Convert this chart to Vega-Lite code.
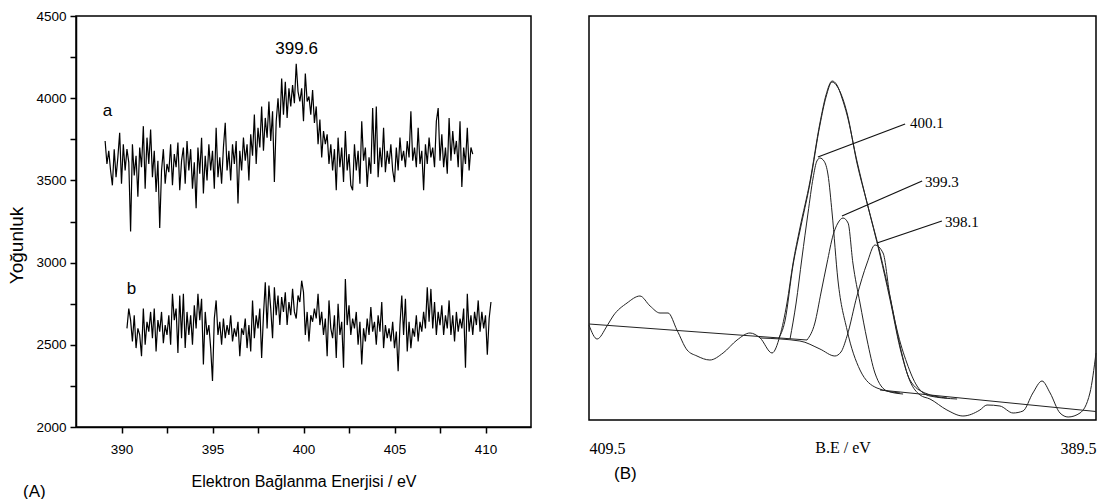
{
"$schema": "https://vega.github.io/schema/vega-lite/v6.json",
"background": "white",
"padding": {"left": 6, "top": 8, "right": 6, "bottom": 0},
"bounds": "flush",
"spacing": 58,
"config": {
  "view": {"stroke": "#000", "strokeWidth": 1.5},
  "font": "Liberation Sans",
  "axis": {"grid": false, "domainColor": "#000", "domainWidth": 1.5, "tickColor": "#000", "tickWidth": 1.5, "labelColor": "#000", "titleColor": "#000", "titleFontWeight": "normal"}
},
"datasets": {
"spectra": [
{"s":"a","x":389.1,"y":3740},{"s":"a","x":389.2,"y":3600},{"s":"a","x":389.3,"y":3680},{"s":"a","x":389.4,"y":3560},{"s":"a","x":389.5,"y":3470},{"s":"a","x":389.6,"y":3690},{"s":"a","x":389.7,"y":3520},{"s":"a","x":389.8,"y":3640},{"s":"a","x":389.9,"y":3790},
{"s":"a","x":390.0,"y":3480},{"s":"a","x":390.1,"y":3720},{"s":"a","x":390.2,"y":3560},{"s":"a","x":390.3,"y":3690},{"s":"a","x":390.4,"y":3610},{"s":"a","x":390.5,"y":3190},{"s":"a","x":390.6,"y":3720},{"s":"a","x":390.7,"y":3530},{"s":"a","x":390.8,"y":3650},{"s":"a","x":390.9,"y":3400},
{"s":"a","x":391.0,"y":3700},{"s":"a","x":391.1,"y":3580},{"s":"a","x":391.2,"y":3830},{"s":"a","x":391.3,"y":3450},{"s":"a","x":391.4,"y":3760},{"s":"a","x":391.5,"y":3600},{"s":"a","x":391.6,"y":3810},{"s":"a","x":391.7,"y":3520},{"s":"a","x":391.8,"y":3680},{"s":"a","x":391.9,"y":3430},
{"s":"a","x":392.0,"y":3620},{"s":"a","x":392.1,"y":3210},{"s":"a","x":392.2,"y":3560},{"s":"a","x":392.3,"y":3690},{"s":"a","x":392.4,"y":3480},{"s":"a","x":392.5,"y":3600},{"s":"a","x":392.6,"y":3550},{"s":"a","x":392.7,"y":3720},{"s":"a","x":392.8,"y":3470},{"s":"a","x":392.9,"y":3660},
{"s":"a","x":393.0,"y":3580},{"s":"a","x":393.1,"y":3730},{"s":"a","x":393.2,"y":3440},{"s":"a","x":393.3,"y":3620},{"s":"a","x":393.4,"y":3700},{"s":"a","x":393.5,"y":3480},{"s":"a","x":393.6,"y":3740},{"s":"a","x":393.7,"y":3560},{"s":"a","x":393.8,"y":3690},{"s":"a","x":393.9,"y":3450},
{"s":"a","x":394.0,"y":3610},{"s":"a","x":394.1,"y":3330},{"s":"a","x":394.2,"y":3700},{"s":"a","x":394.3,"y":3540},{"s":"a","x":394.4,"y":3760},{"s":"a","x":394.5,"y":3420},{"s":"a","x":394.6,"y":3650},{"s":"a","x":394.7,"y":3500},{"s":"a","x":394.8,"y":3720},{"s":"a","x":394.9,"y":3560},
{"s":"a","x":395.0,"y":3680},{"s":"a","x":395.1,"y":3450},{"s":"a","x":395.2,"y":3820},{"s":"a","x":395.3,"y":3520},{"s":"a","x":395.4,"y":3640},{"s":"a","x":395.5,"y":3480},{"s":"a","x":395.6,"y":3700},{"s":"a","x":395.7,"y":3850},{"s":"a","x":395.8,"y":3560},{"s":"a","x":395.9,"y":3680},
{"s":"a","x":396.0,"y":3500},{"s":"a","x":396.1,"y":3720},{"s":"a","x":396.2,"y":3600},{"s":"a","x":396.3,"y":3740},{"s":"a","x":396.4,"y":3360},{"s":"a","x":396.5,"y":3680},{"s":"a","x":396.6,"y":3560},{"s":"a","x":396.7,"y":3760},{"s":"a","x":396.8,"y":3620},{"s":"a","x":396.9,"y":3720},
{"s":"a","x":397.0,"y":3500},{"s":"a","x":397.1,"y":3780},{"s":"a","x":397.2,"y":3650},{"s":"a","x":397.3,"y":3900},{"s":"a","x":397.4,"y":3600},{"s":"a","x":397.5,"y":3820},{"s":"a","x":397.6,"y":3700},{"s":"a","x":397.7,"y":3950},{"s":"a","x":397.8,"y":3680},{"s":"a","x":397.9,"y":3880},
{"s":"a","x":398.0,"y":3760},{"s":"a","x":398.1,"y":3980},{"s":"a","x":398.2,"y":3740},{"s":"a","x":398.3,"y":3920},{"s":"a","x":398.4,"y":3490},{"s":"a","x":398.5,"y":3860},{"s":"a","x":398.6,"y":4000},{"s":"a","x":398.7,"y":3820},{"s":"a","x":398.8,"y":4120},{"s":"a","x":398.9,"y":3900},
{"s":"a","x":399.0,"y":4100},{"s":"a","x":399.1,"y":3880},{"s":"a","x":399.2,"y":4060},{"s":"a","x":399.3,"y":3950},{"s":"a","x":399.4,"y":4080},{"s":"a","x":399.5,"y":3970},{"s":"a","x":399.6,"y":4210},{"s":"a","x":399.7,"y":4040},{"s":"a","x":399.8,"y":3980},{"s":"a","x":399.9,"y":4060},
{"s":"a","x":400.0,"y":3860},{"s":"a","x":400.1,"y":4150},{"s":"a","x":400.2,"y":3980},{"s":"a","x":400.3,"y":4010},{"s":"a","x":400.4,"y":3900},{"s":"a","x":400.5,"y":4050},{"s":"a","x":400.6,"y":3850},{"s":"a","x":400.7,"y":3950},{"s":"a","x":400.8,"y":3720},{"s":"a","x":400.9,"y":3870},
{"s":"a","x":401.0,"y":3640},{"s":"a","x":401.1,"y":3800},{"s":"a","x":401.2,"y":3720},{"s":"a","x":401.3,"y":3780},{"s":"a","x":401.4,"y":3600},{"s":"a","x":401.5,"y":3720},{"s":"a","x":401.6,"y":3560},{"s":"a","x":401.7,"y":3690},{"s":"a","x":401.8,"y":3440},{"s":"a","x":401.9,"y":3760},
{"s":"a","x":402.0,"y":3580},{"s":"a","x":402.1,"y":3700},{"s":"a","x":402.2,"y":3490},{"s":"a","x":402.3,"y":3800},{"s":"a","x":402.4,"y":3560},{"s":"a","x":402.5,"y":3660},{"s":"a","x":402.6,"y":3470},{"s":"a","x":402.7,"y":3440},{"s":"a","x":402.8,"y":3720},{"s":"a","x":402.9,"y":3560},
{"s":"a","x":403.0,"y":3680},{"s":"a","x":403.1,"y":3480},{"s":"a","x":403.2,"y":3860},{"s":"a","x":403.3,"y":3620},{"s":"a","x":403.4,"y":3700},{"s":"a","x":403.5,"y":3460},{"s":"a","x":403.6,"y":3640},{"s":"a","x":403.7,"y":3540},{"s":"a","x":403.8,"y":3940},{"s":"a","x":403.9,"y":3600},
{"s":"a","x":404.0,"y":3950},{"s":"a","x":404.1,"y":3520},{"s":"a","x":404.2,"y":3700},{"s":"a","x":404.3,"y":3580},{"s":"a","x":404.4,"y":3820},{"s":"a","x":404.5,"y":3550},{"s":"a","x":404.6,"y":3680},{"s":"a","x":404.7,"y":3600},{"s":"a","x":404.8,"y":3720},{"s":"a","x":404.9,"y":3560},
{"s":"a","x":405.0,"y":3490},{"s":"a","x":405.1,"y":3700},{"s":"a","x":405.2,"y":3560},{"s":"a","x":405.3,"y":3760},{"s":"a","x":405.4,"y":3620},{"s":"a","x":405.5,"y":3680},{"s":"a","x":405.6,"y":3580},{"s":"a","x":405.7,"y":3740},{"s":"a","x":405.8,"y":3640},{"s":"a","x":405.9,"y":3920},
{"s":"a","x":406.0,"y":3620},{"s":"a","x":406.1,"y":3700},{"s":"a","x":406.2,"y":3580},{"s":"a","x":406.3,"y":3820},{"s":"a","x":406.4,"y":3600},{"s":"a","x":406.5,"y":3680},{"s":"a","x":406.6,"y":3440},{"s":"a","x":406.7,"y":3720},{"s":"a","x":406.8,"y":3600},{"s":"a","x":406.9,"y":3760},
{"s":"a","x":407.0,"y":3640},{"s":"a","x":407.1,"y":3700},{"s":"a","x":407.2,"y":3580},{"s":"a","x":407.3,"y":3860},{"s":"a","x":407.4,"y":3940},{"s":"a","x":407.5,"y":3620},{"s":"a","x":407.6,"y":3780},{"s":"a","x":407.7,"y":3580},{"s":"a","x":407.8,"y":3700},{"s":"a","x":407.9,"y":3540},
{"s":"a","x":408.0,"y":3880},{"s":"a","x":408.1,"y":3620},{"s":"a","x":408.2,"y":3800},{"s":"a","x":408.3,"y":3660},{"s":"a","x":408.4,"y":3740},{"s":"a","x":408.5,"y":3580},{"s":"a","x":408.6,"y":3860},{"s":"a","x":408.7,"y":3460},{"s":"a","x":408.8,"y":3700},{"s":"a","x":408.9,"y":3600},
{"s":"a","x":409.0,"y":3820},{"s":"a","x":409.1,"y":3560},{"s":"a","x":409.2,"y":3700},{"s":"a","x":409.3,"y":3660},
{"s":"b","x":390.3,"y":2600},{"s":"b","x":390.4,"y":2720},{"s":"b","x":390.5,"y":2650},{"s":"b","x":390.6,"y":2520},{"s":"b","x":390.7,"y":2680},{"s":"b","x":390.8,"y":2480},{"s":"b","x":390.9,"y":2600},
{"s":"b","x":391.0,"y":2560},{"s":"b","x":391.1,"y":2430},{"s":"b","x":391.2,"y":2720},{"s":"b","x":391.3,"y":2500},{"s":"b","x":391.4,"y":2640},{"s":"b","x":391.5,"y":2580},{"s":"b","x":391.6,"y":2700},{"s":"b","x":391.7,"y":2540},{"s":"b","x":391.8,"y":2720},{"s":"b","x":391.9,"y":2460},
{"s":"b","x":392.0,"y":2650},{"s":"b","x":392.1,"y":2580},{"s":"b","x":392.2,"y":2700},{"s":"b","x":392.3,"y":2510},{"s":"b","x":392.4,"y":2620},{"s":"b","x":392.5,"y":2560},{"s":"b","x":392.6,"y":2680},{"s":"b","x":392.7,"y":2500},{"s":"b","x":392.8,"y":2810},{"s":"b","x":392.9,"y":2650},
{"s":"b","x":393.0,"y":2720},{"s":"b","x":393.1,"y":2450},{"s":"b","x":393.2,"y":2800},{"s":"b","x":393.3,"y":2540},{"s":"b","x":393.4,"y":2810},{"s":"b","x":393.5,"y":2480},{"s":"b","x":393.6,"y":2700},{"s":"b","x":393.7,"y":2560},{"s":"b","x":393.8,"y":2680},{"s":"b","x":393.9,"y":2500},
{"s":"b","x":394.0,"y":2740},{"s":"b","x":394.1,"y":2600},{"s":"b","x":394.2,"y":2810},{"s":"b","x":394.3,"y":2650},{"s":"b","x":394.4,"y":2780},{"s":"b","x":394.5,"y":2380},{"s":"b","x":394.6,"y":2700},{"s":"b","x":394.7,"y":2560},{"s":"b","x":394.8,"y":2620},{"s":"b","x":394.9,"y":2480},
{"s":"b","x":395.0,"y":2280},{"s":"b","x":395.1,"y":2660},{"s":"b","x":395.2,"y":2770},{"s":"b","x":395.3,"y":2560},{"s":"b","x":395.4,"y":2640},{"s":"b","x":395.5,"y":2500},{"s":"b","x":395.6,"y":2660},{"s":"b","x":395.7,"y":2540},{"s":"b","x":395.8,"y":2620},{"s":"b","x":395.9,"y":2560},
{"s":"b","x":396.0,"y":2680},{"s":"b","x":396.1,"y":2520},{"s":"b","x":396.2,"y":2600},{"s":"b","x":396.3,"y":2550},{"s":"b","x":396.4,"y":2640},{"s":"b","x":396.5,"y":2430},{"s":"b","x":396.6,"y":2600},{"s":"b","x":396.7,"y":2560},{"s":"b","x":396.8,"y":2660},{"s":"b","x":396.9,"y":2480},
{"s":"b","x":397.0,"y":2620},{"s":"b","x":397.1,"y":2460},{"s":"b","x":397.2,"y":2770},{"s":"b","x":397.3,"y":2540},{"s":"b","x":397.4,"y":2680},{"s":"b","x":397.5,"y":2600},{"s":"b","x":397.6,"y":2720},{"s":"b","x":397.7,"y":2420},{"s":"b","x":397.8,"y":2680},{"s":"b","x":397.9,"y":2880},
{"s":"b","x":398.0,"y":2600},{"s":"b","x":398.1,"y":2860},{"s":"b","x":398.2,"y":2720},{"s":"b","x":398.3,"y":2540},{"s":"b","x":398.4,"y":2850},{"s":"b","x":398.5,"y":2680},{"s":"b","x":398.6,"y":2800},{"s":"b","x":398.7,"y":2620},{"s":"b","x":398.8,"y":2790},{"s":"b","x":398.9,"y":2700},
{"s":"b","x":399.0,"y":2820},{"s":"b","x":399.1,"y":2620},{"s":"b","x":399.2,"y":2760},{"s":"b","x":399.3,"y":2680},{"s":"b","x":399.4,"y":2840},{"s":"b","x":399.5,"y":2700},{"s":"b","x":399.6,"y":2660},{"s":"b","x":399.7,"y":2800},{"s":"b","x":399.8,"y":2760},{"s":"b","x":399.9,"y":2890},
{"s":"b","x":400.0,"y":2820},{"s":"b","x":400.1,"y":2560},{"s":"b","x":400.2,"y":2700},{"s":"b","x":400.3,"y":2520},{"s":"b","x":400.4,"y":2680},{"s":"b","x":400.5,"y":2640},{"s":"b","x":400.6,"y":2720},{"s":"b","x":400.7,"y":2660},{"s":"b","x":400.8,"y":2810},{"s":"b","x":400.9,"y":2620},
{"s":"b","x":401.0,"y":2700},{"s":"b","x":401.1,"y":2560},{"s":"b","x":401.2,"y":2660},{"s":"b","x":401.3,"y":2430},{"s":"b","x":401.4,"y":2770},{"s":"b","x":401.5,"y":2600},{"s":"b","x":401.6,"y":2540},{"s":"b","x":401.7,"y":2680},{"s":"b","x":401.8,"y":2420},{"s":"b","x":401.9,"y":2750},
{"s":"b","x":402.0,"y":2560},{"s":"b","x":402.1,"y":2640},{"s":"b","x":402.2,"y":2360},{"s":"b","x":402.3,"y":2900},{"s":"b","x":402.4,"y":2620},{"s":"b","x":402.5,"y":2740},{"s":"b","x":402.6,"y":2560},{"s":"b","x":402.7,"y":2660},{"s":"b","x":402.8,"y":2600},{"s":"b","x":402.9,"y":2700},
{"s":"b","x":403.0,"y":2500},{"s":"b","x":403.1,"y":2640},{"s":"b","x":403.2,"y":2380},{"s":"b","x":403.3,"y":2600},{"s":"b","x":403.4,"y":2520},{"s":"b","x":403.5,"y":2660},{"s":"b","x":403.6,"y":2560},{"s":"b","x":403.7,"y":2730},{"s":"b","x":403.8,"y":2580},{"s":"b","x":403.9,"y":2640},
{"s":"b","x":404.0,"y":2500},{"s":"b","x":404.1,"y":2680},{"s":"b","x":404.2,"y":2580},{"s":"b","x":404.3,"y":2760},{"s":"b","x":404.4,"y":2480},{"s":"b","x":404.5,"y":2620},{"s":"b","x":404.6,"y":2540},{"s":"b","x":404.7,"y":2600},{"s":"b","x":404.8,"y":2520},{"s":"b","x":404.9,"y":2640},
{"s":"b","x":405.0,"y":2480},{"s":"b","x":405.1,"y":2580},{"s":"b","x":405.2,"y":2340},{"s":"b","x":405.3,"y":2620},{"s":"b","x":405.4,"y":2800},{"s":"b","x":405.5,"y":2560},{"s":"b","x":405.6,"y":2780},{"s":"b","x":405.7,"y":2460},{"s":"b","x":405.8,"y":2640},{"s":"b","x":405.9,"y":2480},
{"s":"b","x":406.0,"y":2600},{"s":"b","x":406.1,"y":2550},{"s":"b","x":406.2,"y":2680},{"s":"b","x":406.3,"y":2520},{"s":"b","x":406.4,"y":2640},{"s":"b","x":406.5,"y":2580},{"s":"b","x":406.6,"y":2700},{"s":"b","x":406.7,"y":2600},{"s":"b","x":406.8,"y":2850},{"s":"b","x":406.9,"y":2640},
{"s":"b","x":407.0,"y":2840},{"s":"b","x":407.1,"y":2600},{"s":"b","x":407.2,"y":2760},{"s":"b","x":407.3,"y":2560},{"s":"b","x":407.4,"y":2700},{"s":"b","x":407.5,"y":2620},{"s":"b","x":407.6,"y":2740},{"s":"b","x":407.7,"y":2560},{"s":"b","x":407.8,"y":2680},{"s":"b","x":407.9,"y":2600},
{"s":"b","x":408.0,"y":2770},{"s":"b","x":408.1,"y":2560},{"s":"b","x":408.2,"y":2680},{"s":"b","x":408.3,"y":2520},{"s":"b","x":408.4,"y":2700},{"s":"b","x":408.5,"y":2580},{"s":"b","x":408.6,"y":2660},{"s":"b","x":408.7,"y":2600},{"s":"b","x":408.8,"y":2720},{"s":"b","x":408.9,"y":2360},
{"s":"b","x":409.0,"y":2810},{"s":"b","x":409.1,"y":2580},{"s":"b","x":409.2,"y":2680},{"s":"b","x":409.3,"y":2560},{"s":"b","x":409.4,"y":2700},{"s":"b","x":409.5,"y":2620},{"s":"b","x":409.6,"y":2770},{"s":"b","x":409.7,"y":2580},{"s":"b","x":409.8,"y":2700},{"s":"b","x":409.9,"y":2600},
{"s":"b","x":410.0,"y":2680},{"s":"b","x":410.1,"y":2440},{"s":"b","x":410.2,"y":2660},{"s":"b","x":410.3,"y":2760}
],
"labelsA": [
{"x":399.62,"y":4267,"t":"399.6"},
{"x":389.23,"y":3891,"t":"a"},
{"x":390.55,"y":2812,"t":"b"}
],
"fit": [
{"s":"baseL","x":409.5,"y":96},{"s":"baseL","x":400.9,"y":80},
{"s":"baseR","x":398.02,"y":30},{"s":"baseR","x":389.5,"y":8.5},
{"s":"raw","x":409.5,"y":95},{"s":"raw","x":409.18,"y":81},{"s":"raw","x":408.79,"y":94},{"s":"raw","x":408.55,"y":104},{"s":"raw","x":408.0,"y":117},{"s":"raw","x":407.49,"y":124},{"s":"raw","x":407.09,"y":114},{"s":"raw","x":406.7,"y":107},{"s":"raw","x":406.38,"y":107},{"s":"raw","x":406.03,"y":90},{"s":"raw","x":405.63,"y":70},{"s":"raw","x":405.24,"y":64},{"s":"raw","x":404.73,"y":60},{"s":"raw","x":404.21,"y":67},{"s":"raw","x":403.66,"y":80},{"s":"raw","x":403.15,"y":87},{"s":"raw","x":402.75,"y":82},{"s":"raw","x":402.28,"y":67},{"s":"raw","x":401.97,"y":84},{"s":"raw","x":401.69,"y":117},{"s":"raw","x":401.45,"y":157},{"s":"raw","x":401.18,"y":192},{"s":"raw","x":400.78,"y":239},{"s":"raw","x":400.39,"y":297},{"s":"raw","x":400.15,"y":325},{"s":"raw","x":399.91,"y":339},{"s":"raw","x":399.72,"y":335},{"s":"raw","x":399.52,"y":322},{"s":"raw","x":399.32,"y":305},{"s":"raw","x":398.93,"y":259},{"s":"raw","x":398.53,"y":217},{"s":"raw","x":398.02,"y":165},{"s":"raw","x":397.63,"y":121},{"s":"raw","x":397.23,"y":72},{"s":"raw","x":396.84,"y":39},{"s":"raw","x":396.44,"y":25},{"s":"raw","x":396.05,"y":21},{"s":"raw","x":395.38,"y":10},{"s":"raw","x":394.75,"y":4},{"s":"raw","x":394.08,"y":10},{"s":"raw","x":393.8,"y":15},{"s":"raw","x":393.29,"y":14},{"s":"raw","x":392.77,"y":7},{"s":"raw","x":392.38,"y":9},{"s":"raw","x":391.99,"y":27},{"s":"raw","x":391.63,"y":39},{"s":"raw","x":391.31,"y":27},{"s":"raw","x":390.92,"y":7},{"s":"raw","x":390.6,"y":3},{"s":"raw","x":390.13,"y":7},{"s":"raw","x":389.74,"y":27},{"s":"raw","x":389.5,"y":67},
{"s":"env","x":402.04,"y":81},{"s":"env","x":401.77,"y":99},{"s":"env","x":401.45,"y":155},{"s":"env","x":401.18,"y":189},{"s":"env","x":400.78,"y":237},{"s":"env","x":400.39,"y":295},{"s":"env","x":400.15,"y":323},{"s":"env","x":399.91,"y":338},{"s":"env","x":399.72,"y":334},{"s":"env","x":399.32,"y":307},{"s":"env","x":398.93,"y":257},{"s":"env","x":398.53,"y":217},{"s":"env","x":398.02,"y":167},{"s":"env","x":397.63,"y":124},{"s":"env","x":397.23,"y":74},{"s":"env","x":396.84,"y":40},{"s":"env","x":396.25,"y":27},{"s":"env","x":395.38,"y":22},
{"s":"c1","x":401.57,"y":81},{"s":"c1","x":401.33,"y":117},{"s":"c1","x":401.1,"y":162},{"s":"c1","x":400.86,"y":207},{"s":"c1","x":400.66,"y":242},{"s":"c1","x":400.51,"y":259},{"s":"c1","x":400.39,"y":262},{"s":"c1","x":400.23,"y":259},{"s":"c1","x":400.07,"y":245},{"s":"c1","x":399.91,"y":207},{"s":"c1","x":399.68,"y":140},{"s":"c1","x":399.32,"y":90},{"s":"c1","x":398.81,"y":50},{"s":"c1","x":398.14,"y":32},{"s":"c1","x":397.23,"y":27},
{"s":"c2","x":400.9,"y":80},{"s":"c2","x":400.59,"y":97},{"s":"c2","x":400.35,"y":127},{"s":"c2","x":400.11,"y":157},{"s":"c2","x":399.87,"y":185},{"s":"c2","x":399.68,"y":197},{"s":"c2","x":399.48,"y":202},{"s":"c2","x":399.28,"y":197},{"s":"c2","x":399.09,"y":157},{"s":"c2","x":398.81,"y":117},{"s":"c2","x":398.53,"y":80},{"s":"c2","x":398.22,"y":47},{"s":"c2","x":397.74,"y":29},{"s":"c2","x":397.11,"y":26},
{"s":"c3","x":402.75,"y":82},{"s":"c3","x":401.18,"y":79},{"s":"c3","x":400.39,"y":71},{"s":"c3","x":399.8,"y":64},{"s":"c3","x":399.56,"y":68},{"s":"c3","x":399.32,"y":84},{"s":"c3","x":398.93,"y":124},{"s":"c3","x":398.53,"y":157},{"s":"c3","x":398.22,"y":175},{"s":"c3","x":397.9,"y":167},{"s":"c3","x":397.63,"y":124},{"s":"c3","x":397.35,"y":90},{"s":"c3","x":396.96,"y":57},{"s":"c3","x":396.56,"y":34},{"s":"c3","x":396.05,"y":24},{"s":"c3","x":394.98,"y":21}
],
"leaders": [
{"x":400.47,"y":263,"x2":397.03,"y2":296},
{"x":399.52,"y":204,"x2":396.36,"y2":239},
{"x":398.14,"y":177,"x2":395.58,"y2":199}
],
"labelsB": [
{"x":396.92,"y":297,"t":"400.1"},
{"x":396.32,"y":238,"t":"399.3"},
{"x":395.54,"y":198,"t":"398.1"}
]
},
"hconcat": [
{
  "width": 455,
  "height": 411,
  "title": {"text": "(A)", "orient": "bottom", "anchor": "start", "frame": "group", "dx": -53, "offset": -6, "fontSize": 17, "fontWeight": "normal", "font": "Liberation Sans", "color": "#000"},
  "layer": [
    {
      "data": {"name": "spectra"},
      "mark": {"type": "line", "color": "#000", "strokeWidth": 1.2},
      "encoding": {
        "x": {"field": "x", "type": "quantitative",
          "scale": {"domain": [387.5, 412.5], "nice": false, "zero": false},
          "axis": {"values": [390, 392.5, 395, 397.5, 400, 402.5, 405, 407.5, 410], "labelExpr": "datum.value % 5 === 0 ? datum.label : ''", "tickSize": 6, "labelPadding": 9, "labelFontSize": 13.5, "labelFont": "Liberation Sans", "title": "Elektron Bağlanma Enerjisi / eV", "titleFontSize": 16, "titleFont": "Liberation Sans", "titlePadding": 18}},
        "y": {"field": "y", "type": "quantitative",
          "scale": {"domain": [2000, 4500], "nice": false, "zero": false},
          "axis": {"values": [2000, 2250, 2500, 2750, 3000, 3250, 3500, 3750, 4000, 4250, 4500], "labelExpr": "datum.value % 500 === 0 ? datum.label : ''", "format": "d", "tickSize": 6, "labelPadding": 4, "labelFontSize": 13.5, "labelFont": "Liberation Sans", "title": "Yoğunluk", "titleFontSize": 19, "titleFont": "Liberation Sans", "titleX": -60, "titleY": 229, "titleAlign": "center", "titleBaseline": "middle", "titleAngle": -90}},
        "detail": {"field": "s", "type": "nominal"}
      }
    },
    {
      "data": {"name": "labelsA"},
      "mark": {"type": "text", "font": "Liberation Sans", "fontSize": 17, "align": "center", "baseline": "alphabetic", "color": "#000"},
      "encoding": {
        "x": {"field": "x", "type": "quantitative"},
        "y": {"field": "y", "type": "quantitative"},
        "text": {"field": "t", "type": "nominal"}
      }
    }
  ]
},
{
  "width": 507,
  "height": 404,
  "title": {"text": "(B)", "orient": "bottom", "anchor": "start", "frame": "group", "dx": 25, "offset": 10, "fontSize": 17, "fontWeight": "normal", "font": "Liberation Sans", "color": "#000"},
  "layer": [
    {
      "data": {"name": "fit"},
      "mark": {"type": "line", "color": "#222", "strokeWidth": 1, "interpolate": "monotone"},
      "encoding": {
        "x": {"field": "x", "type": "quantitative",
          "scale": {"domain": [389.5, 409.5], "reverse": true, "nice": false, "zero": false},
          "axis": {"values": [409.5, 389.5], "format": ".1f", "labelFlush": true, "ticks": false, "tickSize": 0, "domain": false, "labelPadding": 20, "labelFont": "Liberation Serif", "labelFontSize": 16, "title": "B.E / eV", "titleFont": "Liberation Serif", "titleFontSize": 16, "titleY": 27, "titleBaseline": "middle"}},
        "y": {"field": "y", "type": "quantitative", "scale": {"domain": [0, 404], "nice": false, "zero": false}, "axis": null},
        "detail": {"field": "s", "type": "nominal"}
      }
    },
    {
      "data": {"name": "leaders"},
      "mark": {"type": "rule", "color": "#111", "strokeWidth": 1.3},
      "encoding": {
        "x": {"field": "x", "type": "quantitative"},
        "y": {"field": "y", "type": "quantitative"},
        "x2": {"field": "x2"},
        "y2": {"field": "y2"}
      }
    },
    {
      "data": {"name": "labelsB"},
      "mark": {"type": "text", "font": "Liberation Serif", "fontSize": 15, "align": "left", "baseline": "middle", "dx": 2, "color": "#000"},
      "encoding": {
        "x": {"field": "x", "type": "quantitative"},
        "y": {"field": "y", "type": "quantitative"},
        "text": {"field": "t", "type": "nominal"}
      }
    }
  ]
}
]
}
